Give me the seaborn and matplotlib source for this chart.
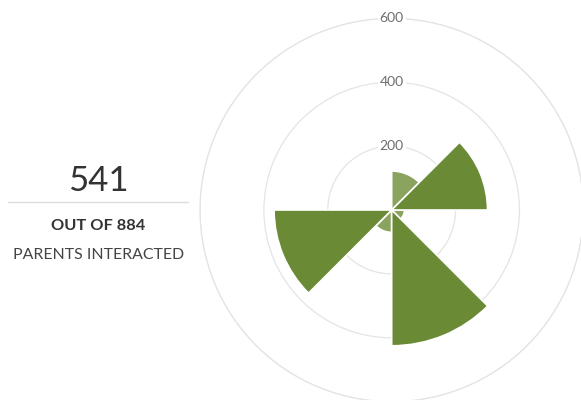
import numpy as np
import matplotlib
matplotlib.use('Agg')
import matplotlib.pyplot as plt
import seaborn as sns

# four segments, each split into two series (light / dark)
segments = ['Q1', 'Q2', 'Q3', 'Q4']
light_values = [122, 40, 70, 0]
dark_values = [300, 425, 368, 0]
ring_ticks = [200, 400, 600]

total_interacted = 541
total_parents = 884

sns.set_theme(style='white')
plt.rcParams['font.family'] = ['Lato', 'DejaVu Sans']

light_col, dark_col = '#8aa35f', '#6b8a35'

fig = plt.figure(figsize=(5.81, 4.0), dpi=100)
ax = fig.add_axes([0.3442, -0.00425, 0.6599, 0.9585], projection='polar')
ax.set_theta_zero_location('N')
ax.set_theta_direction(-1)

seg_width = 2 * np.pi / len(segments)
half = seg_width / 2
starts = np.arange(len(segments)) * seg_width
ax.bar(starts + half / 2, light_values, width=half, color=light_col,
       edgecolor='white', linewidth=1.2, zorder=6)
ax.bar(starts + 1.5 * half, dark_values, width=half, color=dark_col,
       edgecolor='white', linewidth=1.2, zorder=6)

ax.set_ylim(0, 600)
ax.set_rgrids(ring_ticks, labels=[str(t) for t in ring_ticks], angle=0)
ax.set_xticks([])
ax.grid(True, color='#e4e4e4', linewidth=0.9)
ax.spines['polar'].set_color('#e4e4e4')
ax.spines['polar'].set_linewidth(0.9)
ax.spines['polar'].set_zorder(0.5)
ax.yaxis.set_zorder(5)
for lbl in ax.get_yticklabels():
    lbl.set_color('#6e6e6e')
    lbl.set_fontsize(10)
    lbl.set_ha('center')
    lbl.set_va('center')
    lbl.set_bbox(dict(facecolor='white', edgecolor='none', pad=1.5))

# left summary block
fig.text(0.169, 1 - 181 / 400, str(total_interacted), ha='center', va='center',
         fontsize=25, color='#333333')
fig.add_artist(plt.Line2D([8 / 581, 188 / 581], [1 - 202 / 400] * 2,
                          color='#dddddd', linewidth=1, transform=fig.transFigure))
fig.text(0.169, 1 - 226 / 400, f'OUT OF {total_parents}', ha='center', va='center',
         fontsize=11.8, fontweight='bold', color='#333333')
fig.text(0.169, 1 - 255 / 400, 'PARENTS INTERACTED', ha='center', va='center',
         fontsize=11.4, color='#444444')

fig.savefig('out.png', dpi=100)
